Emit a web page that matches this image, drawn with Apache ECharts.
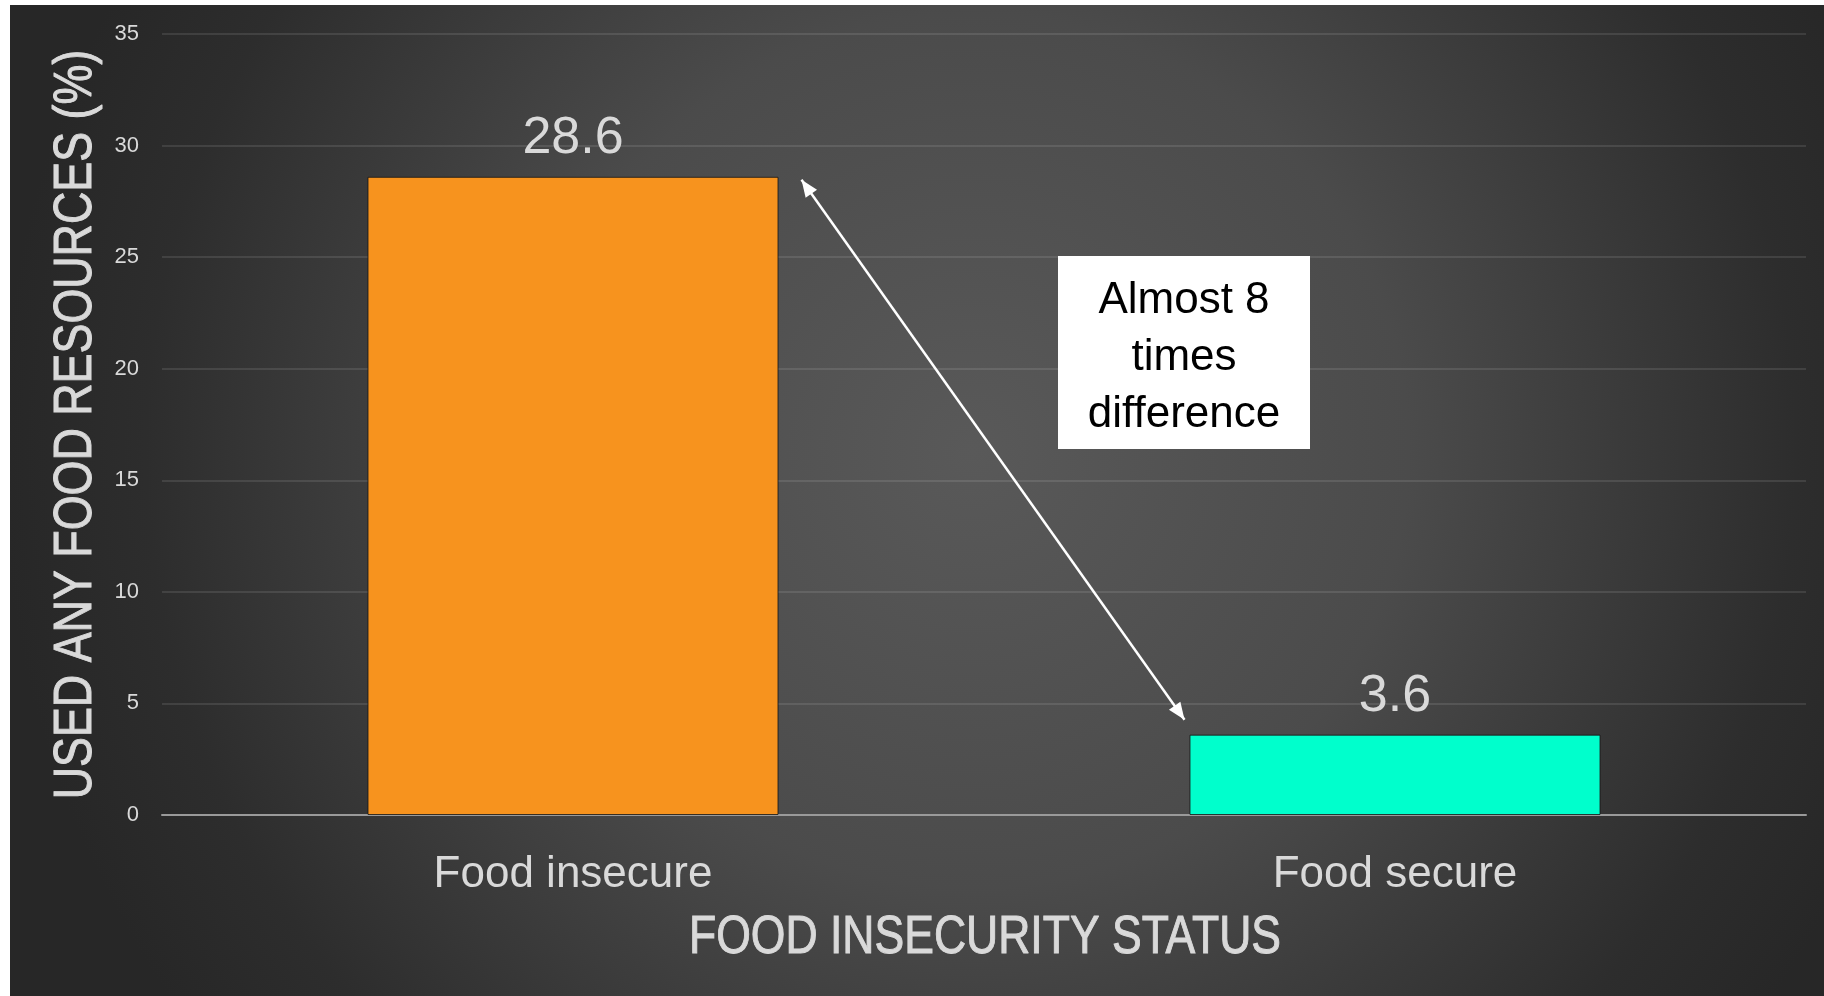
<!DOCTYPE html>
<html>
<head>
<meta charset="utf-8">
<script src="https://cdn.jsdelivr.net/npm/echarts@6/dist/echarts.min.js"></script>
<style>
  html, body { margin: 0; padding: 0; background: #ffffff; width: 1824px; height: 996px; overflow: hidden; }
  #chart { position: absolute; left: 10px; top: 5px; width: 1814px; height: 991px; }
</style>
</head>
<body>
<div id="chart"></div>
<script>
// Share of respondents who used any food resources, by food insecurity status
const categories = ['Food insecure', 'Food secure'];
const usedFoodResources = [28.6, 3.6];
const barColors = ['#F7931E', '#00FFCC'];
const yMin = 0, yMax = 35, yInterval = 5;
const yAxisTitle = 'USED ANY FOOD RESOURCES (%)';
const xAxisTitle = 'FOOD INSECURITY STATUS';
const noteLines = ['Almost 8', 'times', 'difference'];

const REGULAR = '"Liberation Sans", Arial, sans-serif';
const LABEL_GREY = '#d9d9d9';
const GRID = { left: 152, right: 18, top: 29, bottom: 181 };

const chart = echarts.init(document.getElementById('chart'), null, { renderer: 'canvas' });

chart.setOption({
  animation: false,
  backgroundColor: {
    type: 'radial', x: 0.53, y: 0.45, r: 0.98,
    colorStops: [
      { offset: 0, color: '#595959' },
      { offset: 0.45, color: '#4b4b4b' },
      { offset: 0.85, color: '#2d2d2d' },
      { offset: 1, color: '#272727' }
    ]
  },
  grid: Object.assign({ containLabel: false }, GRID),
  xAxis: {
    type: 'category',
    data: categories,
    axisLine: { show: true, lineStyle: { color: '#9a9a9a', width: 2 } },
    axisTick: { show: false },
    axisLabel: { color: LABEL_GREY, fontSize: 44, fontFamily: REGULAR, margin: 38 },
    splitLine: { show: false }
  },
  yAxis: {
    type: 'value',
    min: yMin, max: yMax, interval: yInterval,
    axisLine: { show: false },
    axisTick: { show: false },
    axisLabel: { color: LABEL_GREY, fontSize: 22, fontFamily: REGULAR, margin: 23 },
    splitLine: { show: true, lineStyle: { color: 'rgba(255,255,255,0.1)', width: 2 } }
  },
  series: [{
    type: 'bar',
    barWidth: '50%',
    data: usedFoodResources.map((v, i) => ({
      value: v,
      itemStyle: { color: barColors[i], borderColor: 'rgba(20,20,20,0.8)', borderWidth: 1 }
    })),
    label: {
      show: true,
      position: 'top',
      distance: 12,
      color: LABEL_GREY,
      fontSize: 52,
      fontFamily: REGULAR
    }
  }]
});

// Double-headed arrow between the two bar tops
function arrowHead(tip, from, len, half) {
  const dx = tip[0] - from[0], dy = tip[1] - from[1];
  const d = Math.hypot(dx, dy);
  const ux = dx / d, uy = dy / d;
  const bx = tip[0] - ux * len, by = tip[1] - uy * len;
  return [tip, [bx - uy * half, by + ux * half], [bx + uy * half, by - ux * half]];
}

const p0 = chart.convertToPixel({ seriesIndex: 0 }, [categories[0], usedFoodResources[0]]);
const p1 = chart.convertToPixel({ seriesIndex: 0 }, [categories[1], usedFoodResources[1]]);
const halfBar = (p1[0] - p0[0]) * 0.25;
const start = [p0[0] + halfBar + 23, p0[1] + 3];
const end = [p1[0] - halfBar - 5, p1[1] - 15];

// Axis titles: narrow caps, drawn as condensed text
const W = chart.getWidth(), H = chart.getHeight();
const plotCx = GRID.left + (W - GRID.left - GRID.right) / 2;
const plotCy = GRID.top + (H - GRID.top - GRID.bottom) / 2;

const noteCx = 1174, noteCy = 347;
chart.setOption({
  graphic: [
    {
      type: 'line',
      shape: { x1: start[0], y1: start[1], x2: end[0], y2: end[1] },
      style: { stroke: '#ffffff', lineWidth: 2.5 },
      z: 10
    },
    { type: 'polygon', shape: { points: arrowHead(start, end, 17, 7) }, style: { fill: '#ffffff' }, z: 10 },
    { type: 'polygon', shape: { points: arrowHead(end, start, 17, 7) }, style: { fill: '#ffffff' }, z: 10 },
    {
      type: 'rect',
      shape: { x: noteCx - 126, y: noteCy - 96, width: 252, height: 193 },
      style: { fill: '#ffffff' },
      z: 10
    },
    {
      type: 'text',
      x: noteCx, y: noteCy + 6,
      style: {
        text: noteLines.join('\n'),
        fill: '#000000',
        font: '44px ' + REGULAR,
        lineHeight: 57,
        align: 'center',
        verticalAlign: 'middle'
      },
      z: 11
    },
    {
      type: 'text',
      x: 66, y: plotCy,
      rotation: Math.PI / 2,
      scaleX: 0.83,
      style: {
        text: yAxisTitle,
        fill: LABEL_GREY,
        stroke: LABEL_GREY,
        lineWidth: 1,
        font: '54px ' + REGULAR,
        align: 'center',
        verticalAlign: 'middle'
      },
      z: 5
    },
    {
      type: 'text',
      x: plotCx + 1, y: 933,
      scaleX: 0.84,
      style: {
        text: xAxisTitle,
        fill: LABEL_GREY,
        stroke: LABEL_GREY,
        lineWidth: 1,
        font: '53px ' + REGULAR,
        align: 'center',
        verticalAlign: 'middle'
      },
      z: 5
    }
  ]
});
</script>
</body>
</html>
